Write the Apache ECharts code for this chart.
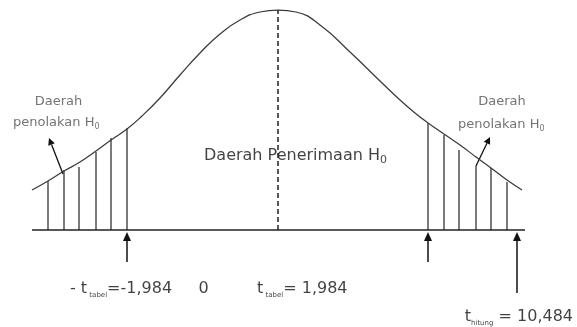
<!DOCTYPE html>
<html><head><meta charset="utf-8">
<script src="https://cdn.jsdelivr.net/npm/echarts@6/dist/echarts.min.js"></script>
<style>html,body{margin:0;padding:0;background:#fff}#c{width:577px;height:327px}</style>
</head><body><div id="c"></div>
<script>
// Drawing units: x along the axis line, y = height above the axis line
const curvePoints = [[32,40],[48,49],[64,59],[80,68],[96,79],[111,90],[127,101],[142,114],[160,132],[180,155],[200,177],[220,196],[240,210],[260,218],[278,220],[296,218],[320,205],[350,178],[380,149],[400,130],[415,117],[428,107],[444,96],[460,85],[476,73],[491,62],[507,50],[522,40]];
const axisLine = [[32,0],[525,0]];
const centerLine = [[278,0],[278,220]];
const hatchX =   [48, 64, 79, 96, 111, 127, 428, 444, 459, 476, 491, 507];
const hatchTop = [49, 60, 63, 78,  92, 102, 107,  95,  80,  64,  62,  48];
// up arrows: [x, tail, tip]
const upArrowX =    [127, 428, 517];
const upArrowTail = [-32, -32, -63];
const upArrowTip =  [-2, -2, -2];
// pointer arrows: [x1, y1, x2, y2]
const pointerArrows = [[63,56,49,92],[476,64,490,93]];
// labels
const labelText = [
  '{s|Daerah}',
  '{s|penolakan H}{ss|0}',
  '{s|Daerah}',
  '{s|penolakan H}{ss|0}',
  '{m|Daerah Penerimaan H}{ms|0}',
  '{b|- t}{bs| tabel}{b|=-1,984}',
  '{b|0}',
  '{b|t}{bs| tabel}{b|= 1,984}',
  '{b|t}{bs|hitung}{b| = 10,484}'
];
const labelX = [58.5, 13, 502, 458, 202, 70, 203.5, 257, 573];
const labelY = [128, 107, 128, 105, 74, -59, -59, -59, -86.5];
const labelAlign = ['center','left','center','left','left','left','center','left','right'];

const FF = 'DejaVu Sans';
const chart = echarts.init(document.getElementById('c'), null, {renderer: 'canvas'});

function hatchItem(params, api) {
  const p0 = api.coord([api.value(0), 0]);
  const p1 = api.coord([api.value(0), api.value(1)]);
  return {type: 'line', shape: {x1: p0[0], y1: p0[1], x2: p1[0], y2: p1[1]},
          style: {stroke: '#222', lineWidth: 1.2}};
}
function makeArrow(hl, hw, lw) {
  return function (params, api) {
    const a = api.coord([api.value(0), api.value(1)]);
    const b = api.coord([api.value(2), api.value(3)]);
    const dx = b[0] - a[0], dy = b[1] - a[1];
    const L = Math.hypot(dx, dy), ux = dx / L, uy = dy / L;
    const bx = b[0] - ux * hl, by = b[1] - uy * hl;
    return {type: 'group', children: [
      {type: 'line', shape: {x1: a[0], y1: a[1], x2: bx, y2: by}, style: {stroke: '#111', lineWidth: lw}},
      {type: 'polygon', shape: {points: [[b[0], b[1]], [bx - uy * hw, by + ux * hw], [bx + uy * hw, by - ux * hw]]},
       style: {fill: '#111'}}
    ]};
  };
}

const option = {
  animation: false,
  backgroundColor: '#fff',
  grid: {left: 0, right: 0, top: 0, bottom: 0},
  xAxis: {type: 'value', min: 0, max: 577, show: false},
  yAxis: {type: 'value', min: -97, max: 230, show: false},
  series: [
    {type: 'line', data: curvePoints, smooth: 0.5, symbol: 'none',
     lineStyle: {color: '#3a3a3a', width: 1.25}, silent: true},
    {type: 'line', data: axisLine, symbol: 'none', lineStyle: {color: '#222', width: 1.5}, silent: true},
    {type: 'line', data: centerLine, symbol: 'none', lineStyle: {color: '#222', width: 1.5, type: [5, 3]}, silent: true},
    {type: 'custom', renderItem: hatchItem, data: hatchX.map((x, i) => [x, hatchTop[i]]), silent: true, clip: false},
    {type: 'custom', renderItem: makeArrow(9, 4, 1.5),
     data: upArrowX.map((x, i) => [x, upArrowTail[i], x, upArrowTip[i]]), silent: true, clip: false},
    {type: 'custom', renderItem: makeArrow(7, 3.5, 1.3), data: pointerArrows, silent: true, clip: false},
    {type: 'scatter', symbolSize: 1, itemStyle: {color: 'rgba(0,0,0,0)'}, silent: true,
     data: labelText.map((t, i) => ({
       value: [labelX[i], labelY[i]],
       label: Object.assign({formatter: t, align: labelAlign[i]},
         i === 4 ? {backgroundColor: '#fff', padding: [0, 2]} : {})
     })),
     label: {
       show: true, position: 'inside', verticalAlign: 'middle', fontFamily: FF,
       rich: {
         s:  {fontFamily: FF, fontSize: 13, color: '#505050', lineHeight: 16},
         ss: {fontFamily: FF, fontSize: 8, color: '#505050', lineHeight: 8, verticalAlign: 'bottom'},
         m:  {fontFamily: FF, fontSize: 16, color: '#111', lineHeight: 20},
         ms: {fontFamily: FF, fontSize: 11, color: '#111', lineHeight: 11, verticalAlign: 'bottom'},
         b:  {fontFamily: FF, fontSize: 16, color: '#111', lineHeight: 20},
         bs: {fontFamily: FF, fontSize: 7, color: '#111', lineHeight: 15, verticalAlign: 'bottom'}
       }
     }}
  ]
};
chart.setOption(option);
</script></body></html>
